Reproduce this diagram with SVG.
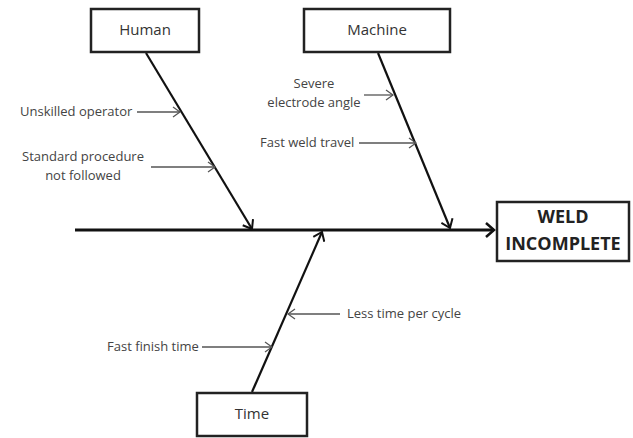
<svg xmlns="http://www.w3.org/2000/svg" width="633" height="438" viewBox="0 0 633 438">
  <style>
    .box { fill: #fff; stroke: #222; stroke-width: 2.5; }
    .cat { font-family: "Open Sans", "DejaVu Sans", sans-serif; font-size: 15px; fill: #333; text-anchor: middle; }
    .lbl { font-family: "Open Sans", "DejaVu Sans", sans-serif; font-size: 13px; fill: #444; }
    .eff { font-family: "Open Sans", "DejaVu Sans", sans-serif; font-size: 18px; font-weight: bold; fill: #222; text-anchor: middle; }
    .spine { stroke: #111; stroke-width: 3; fill: none; }
    .bone { stroke: #111; stroke-width: 2.2; fill: none; }
    .sub { stroke: #555; stroke-width: 1.3; fill: none; }
  </style>
  <defs>
    <marker id="bigHead" markerWidth="12" markerHeight="16" refX="10" refY="8" orient="auto" markerUnits="userSpaceOnUse">
      <path d="M2,1 L10,8 L2,15" fill="none" stroke="#111" stroke-width="2.5"/>
    </marker>
    <marker id="boneHead" markerWidth="12" markerHeight="14" refX="10" refY="7" orient="auto" markerUnits="userSpaceOnUse">
      <path d="M2,1 L10,7 L2,13" fill="none" stroke="#111" stroke-width="2"/>
    </marker>
    <marker id="subHead" markerWidth="10" markerHeight="12" refX="9" refY="6" orient="auto" markerUnits="userSpaceOnUse">
      <path d="M2,1 L9,6 L2,11" fill="none" stroke="#555" stroke-width="1.3"/>
    </marker>
  </defs>

  <!-- connectors: spine, category bones and cause arrows -->
  <g id="connectors">
    <line class="spine" x1="75" y1="230" x2="494" y2="230" marker-end="url(#bigHead)"/>
    <line class="bone" x1="146" y1="53" x2="252" y2="229" marker-end="url(#boneHead)"/>
    <line class="bone" x1="378" y1="53" x2="450" y2="228" marker-end="url(#boneHead)"/>
    <line class="bone" x1="252" y1="392" x2="322" y2="232" marker-end="url(#boneHead)"/>
    <line class="sub" x1="137" y1="112" x2="180" y2="112" marker-end="url(#subHead)"/>
    <line class="sub" x1="151" y1="167" x2="215" y2="167" marker-end="url(#subHead)"/>
    <line class="sub" x1="364" y1="95" x2="393" y2="95" marker-end="url(#subHead)"/>
    <line class="sub" x1="359" y1="143" x2="416" y2="143" marker-end="url(#subHead)"/>
    <line class="sub" x1="340" y1="314" x2="288" y2="314" marker-end="url(#subHead)"/>
    <line class="sub" x1="202" y1="347" x2="272" y2="347" marker-end="url(#subHead)"/>
  </g>

  <g id="human">
    <rect class="box" x="91" y="9" width="108" height="43"/>
    <text class="cat" x="145" y="35">Human</text>
  </g>
  <g id="machine">
    <rect class="box" x="304" y="9" width="146" height="43"/>
    <text class="cat" x="377" y="35">Machine</text>
  </g>
  <g id="time">
    <rect class="box" x="197" y="393" width="110" height="43"/>
    <text class="cat" x="252" y="419">Time</text>
  </g>
  <g id="effect">
    <rect class="box" x="497" y="202" width="132" height="59" stroke-width="3"/>
    <text class="eff" x="563" y="223">WELD</text>
    <text class="eff" x="563" y="250">INCOMPLETE</text>
  </g>

  <g id="causes">
    <text class="lbl" x="20" y="116">Unskilled operator</text>
    <text class="lbl" x="83" y="161" text-anchor="middle">Standard procedure</text>
    <text class="lbl" x="83" y="180" text-anchor="middle">not followed</text>
    <text class="lbl" x="314" y="88" text-anchor="middle">Severe</text>
    <text class="lbl" x="314" y="107" text-anchor="middle">electrode angle</text>
    <text class="lbl" x="260" y="147">Fast weld travel</text>
    <text class="lbl" x="347" y="318">Less time per cycle</text>
    <text class="lbl" x="107" y="351">Fast finish time</text>
  </g>
</svg>
